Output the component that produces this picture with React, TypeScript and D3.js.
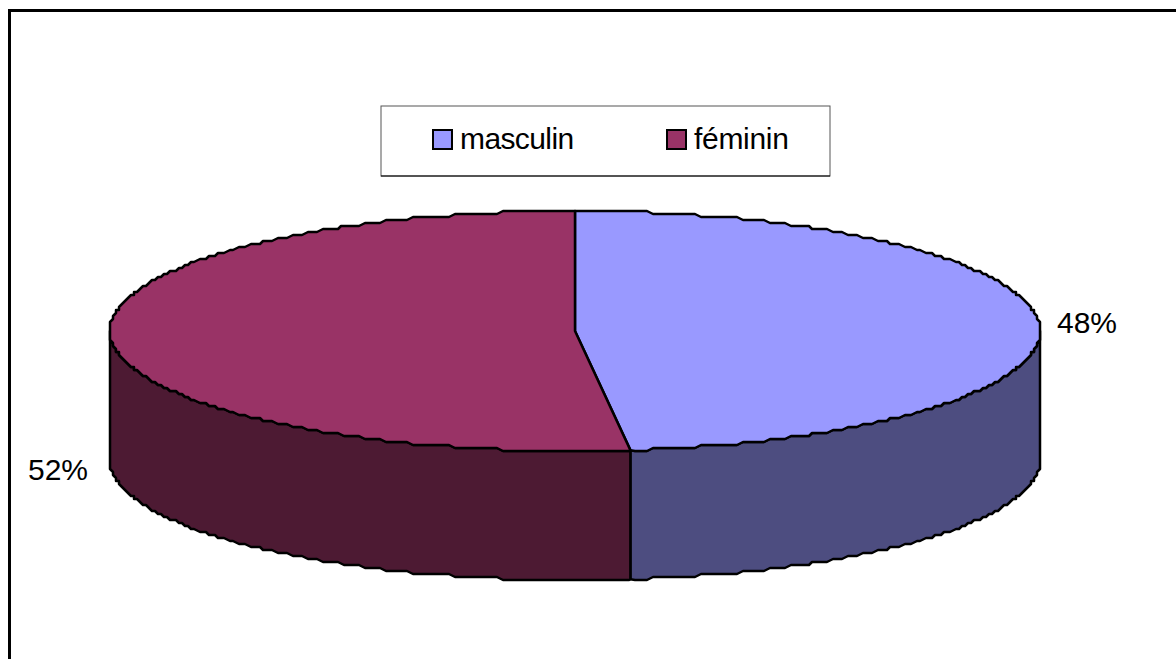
import React from "react";
import * as d3 from "d3";

const categories = ["masculin", "féminin"];
const values = [48.1, 51.9];
const labels = ["48%", "52%"];
const topColors = ["#9999FF", "#993366"];
const sideColors = ["#4D4D80", "#4D1A33"];

const W = 1176, H = 659;
const cx = 575, cy = 331, rx = 465, ry = 120, depth = 129;

const pie = d3.pie<number>().sort(null).startAngle(0).endAngle(2 * Math.PI);
const arcs = pie(values);

const px = d3.scaleLinear().domain([-1, 1]).range([cx - rx, cx + rx]);
const py = d3.scaleLinear().domain([-1, 1]).range([cy - ry, cy + ry]);
const line = d3.line<[number, number]>().curve(d3.curveLinear);

const snap = (v: number, g: number, off: number) => Math.round((v - off) / g) * g + off;
const STEP = Math.PI / 240;
// Elliptical rim on a shared angular grid, stepped like the low-resolution polygon in the original.
const rim = (a0: number, a1: number, dy = 0): [number, number][] => {
  const first = Math.ceil(a0 / STEP + 1e-6);
  const last = Math.floor(a1 / STEP - 1e-6);
  const mid = d3.range(first, last + 1).map((i) => {
    const a = i * STEP;
    return [snap(px(Math.sin(a)), 3, 2), snap(py(-Math.cos(a)), 3, 1) + dy] as [number, number];
  });
  const end = (a: number): [number, number] => [px(Math.sin(a)), py(-Math.cos(a)) + dy];
  return [end(a0), ...mid, end(a1)];
};

const stroke = "#000";

export default function App() {
  const sideRanges = [
    [Math.PI / 2, arcs[0].endAngle],
    [arcs[1].startAngle, (3 * Math.PI) / 2],
  ];
  return (
    <svg
      width={W}
      height={H}
      style={{ position: "absolute", left: 0, top: 0, background: "#fff" }}
      fontFamily="'Liberation Sans', Arial, sans-serif"
    >
      <path d={`M9.5,${H}V10.5H${W}`} fill="none" stroke="#000" strokeWidth={3} />
      <rect x={381} y={106} width={449} height={70} fill="#fff" stroke="#555" strokeWidth={1} />
      <path d="M381,176H830" stroke="#000" strokeWidth={1} />
      {categories.map((c, i) => {
        const sx = [433, 667][i];
        return (
          <g key={c}>
            <rect x={sx} y={130} width={19} height={19} fill={topColors[i]} stroke="#000" strokeWidth={2} />
            <text x={[460, 694][i]} y={149} fontSize={30} fill="#000" letterSpacing={i === 0 ? -0.6 : -0.3}>{c}</text>
          </g>
        );
      })}
      {arcs.map((a, i) => {
        const [s0, s1] = sideRanges[i];
        const front = rim(s0, s1);
        const back = rim(s0, s1, depth).reverse();
        return (
          <path key={`side${i}`} d={`${line([...front, ...back])}Z`} fill={sideColors[i]} stroke={stroke} strokeWidth={2.5} strokeLinejoin="round" />
        );
      })}
      {arcs.map((a, i) => (
        <path
          key={`top${i}`}
          d={`${line([[px(0), py(0)], ...rim(a.startAngle, a.endAngle)])}Z`}
          fill={topColors[i]}
          stroke={stroke}
          strokeWidth={2.5}
          strokeLinejoin="round"
        />
      ))}
      <text x={1057} y={333} fontSize={30} fill="#000">{labels[0]}</text>
      <text x={28} y={480} fontSize={30} fill="#000">{labels[1]}</text>
    </svg>
  );
}
